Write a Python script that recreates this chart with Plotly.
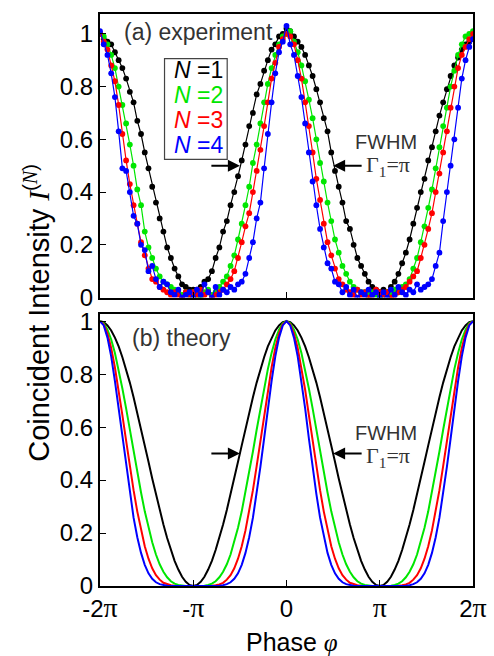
import numpy as np
import plotly.graph_objects as go

# Phase grid: -2pi .. 2pi in steps of pi/25
phase = np.linspace(-2 * np.pi, 2 * np.pi, 101)

tick_vals = [-2 * np.pi, -np.pi, 0, np.pi, 2 * np.pi]
SERIF = "Liberation Serif"
PI = f'<span style="font-family:{SERIF};font-size:28px">π</span>'
tick_text = [f"-2{PI}", f"-{PI}", "0", PI, f"2{PI}"]
y_ticks = [0, 0.2, 0.4, 0.6, 0.8, 1]
y_tick_text = ["0", "0.2", "0.4", "0.6", "0.8", "1"]

labels = ["N =1", "N =2", "N =3", "N =4"]
colors = ["#000000", "#00e600", "#ff0000", "#0000ff"]

# (a) measured coincidence intensities
exp_n1 = [1.00, 0.98, 0.97, 0.96, 0.93, 0.90, 0.87, 0.83, 0.78, 0.74, 0.67, 0.62, 0.55,
          0.49, 0.42, 0.36, 0.30, 0.25, 0.19, 0.15, 0.11, 0.08, 0.05, 0.04, 0.03, 0.03,
          0.03, 0.04, 0.06, 0.07, 0.10, 0.15, 0.19, 0.25, 0.29, 0.35, 0.40, 0.46, 0.52,
          0.58, 0.65, 0.70, 0.77, 0.81, 0.86, 0.90, 0.94, 0.96, 0.99, 1.00, 1.02,
          1.01, 0.99, 0.97, 0.95, 0.92, 0.88, 0.84, 0.79, 0.74, 0.68, 0.63, 0.55, 0.48,
          0.42, 0.36, 0.29, 0.26, 0.20, 0.15, 0.12, 0.09, 0.06, 0.04, 0.03, 0.02,
          0.03, 0.02, 0.04, 0.06, 0.09, 0.13, 0.17, 0.22, 0.28, 0.34, 0.40, 0.45, 0.52,
          0.57, 0.63, 0.69, 0.74, 0.79, 0.84, 0.88, 0.91, 0.94, 0.96, 0.97, 0.98]
exp_n2 = [1.00, 0.99, 0.96, 0.92, 0.87, 0.80, 0.73, 0.66, 0.58, 0.50, 0.41, 0.35, 0.25,
          0.19, 0.15, 0.11, 0.08, 0.06, 0.05, 0.04, 0.03, 0.02, 0.01, 0.02, 0.01, 0.02,
          0.01, 0.00, 0.02, 0.03, 0.01, 0.02, 0.04, 0.06, 0.08, 0.12, 0.16, 0.22, 0.28,
          0.35, 0.42, 0.51, 0.58, 0.66, 0.74, 0.81, 0.87, 0.92, 0.96, 0.99, 1.00,
          1.01, 0.97, 0.93, 0.88, 0.82, 0.75, 0.68, 0.60, 0.51, 0.44, 0.36, 0.29, 0.22,
          0.17, 0.12, 0.09, 0.06, 0.04, 0.03, 0.02, 0.02, 0.01, 0.02, 0.01, 0.00,
          0.01, 0.02, 0.01, 0.03, 0.02, 0.04, 0.05, 0.07, 0.11, 0.15, 0.21, 0.27, 0.34,
          0.41, 0.49, 0.57, 0.65, 0.72, 0.80, 0.86, 0.92, 0.96, 0.99, 1.00, 1.01]
exp_n3 = [1.00, 0.97, 0.94, 0.88, 0.82, 0.73, 0.62, 0.52, 0.43, 0.35, 0.28, 0.21, 0.16,
          0.11, 0.07, 0.06, 0.04, 0.03, 0.02, 0.01, 0.02, 0.01, 0.00, 0.02, 0.01, 0.02,
          0.01, 0.03, 0.01, 0.02, 0.00, 0.01, 0.02, 0.03, 0.05, 0.07, 0.10, 0.15, 0.21,
          0.27, 0.32, 0.40, 0.48, 0.56, 0.65, 0.74, 0.83, 0.89, 0.95, 0.98, 1.00,
          0.99, 0.96, 0.90, 0.83, 0.74, 0.65, 0.55, 0.45, 0.37, 0.28, 0.21, 0.16, 0.11,
          0.07, 0.05, 0.03, 0.02, 0.01, 0.03, 0.01, 0.02, 0.00, 0.01, 0.03, 0.02,
          0.01, 0.02, 0.00, 0.01, 0.02, 0.03, 0.04, 0.06, 0.08, 0.10, 0.15, 0.20, 0.26,
          0.32, 0.40, 0.47, 0.55, 0.63, 0.72, 0.80, 0.87, 0.92, 0.95, 0.98, 1.00]
exp_n4 = [1.01, 0.96, 0.92, 0.85, 0.76, 0.63, 0.49, 0.48, 0.40, 0.31, 0.28, 0.20, 0.18,
          0.10, 0.12, 0.07, 0.04, 0.06, 0.05, 0.02, 0.01, 0.03, 0.00, 0.01, 0.02, 0.00,
          0.03, 0.01, 0.05, 0.02, 0.00, 0.04, 0.01, 0.03, 0.02, 0.04, 0.03, 0.05, 0.06,
          0.09, 0.15, 0.21, 0.30, 0.36, 0.49, 0.62, 0.74, 0.85, 0.93, 0.97, 1.03,
          0.96, 0.92, 0.84, 0.76, 0.66, 0.55, 0.44, 0.35, 0.26, 0.19, 0.13, 0.11, 0.06,
          0.05, 0.02, 0.04, 0.01, 0.03, 0.00, 0.02, 0.01, 0.03, 0.01, 0.02, 0.00,
          0.02, 0.00, 0.03, 0.01, 0.04, 0.02, 0.01, 0.03, 0.02, 0.05, 0.03, 0.04, 0.05,
          0.07, 0.12, 0.17, 0.29, 0.40, 0.50, 0.60, 0.72, 0.83, 0.90, 0.95, 0.98]

# (b) theoretical curves on the same phase grid
th_n1 = [1.000, 0.996, 0.984, 0.965, 0.938, 0.905, 0.864, 0.819, 0.768, 0.713, 0.655, 0.594, 0.531,
         0.469, 0.406, 0.345, 0.287, 0.232, 0.181, 0.136, 0.095, 0.062, 0.035, 0.016, 0.004, 0.000,
         0.004, 0.016, 0.035, 0.062, 0.095, 0.136, 0.181, 0.232, 0.287, 0.345, 0.406, 0.469, 0.531,
         0.594, 0.655, 0.713, 0.768, 0.819, 0.864, 0.905, 0.938, 0.965, 0.984, 0.996, 1.000,
         0.996, 0.984, 0.965, 0.938, 0.905, 0.864, 0.819, 0.768, 0.713, 0.655, 0.594, 0.531, 0.469,
         0.406, 0.345, 0.287, 0.232, 0.181, 0.136, 0.095, 0.062, 0.035, 0.016, 0.004, 0.000,
         0.004, 0.016, 0.035, 0.062, 0.095, 0.136, 0.181, 0.232, 0.287, 0.345, 0.406, 0.469, 0.531,
         0.594, 0.655, 0.713, 0.768, 0.819, 0.864, 0.905, 0.938, 0.965, 0.984, 0.996, 1.000]
th_n2 = [1.000, 0.992, 0.968, 0.931, 0.880, 0.819, 0.746, 0.671, 0.590, 0.508, 0.429, 0.353, 0.282,
         0.220, 0.165, 0.119, 0.082, 0.054, 0.033, 0.018, 0.009, 0.004, 0.001, 0.000, 0.000, 0.000,
         0.000, 0.000, 0.001, 0.004, 0.009, 0.018, 0.033, 0.054, 0.082, 0.119, 0.165, 0.220, 0.282,
         0.353, 0.429, 0.508, 0.590, 0.671, 0.746, 0.819, 0.880, 0.931, 0.968, 0.992, 1.000,
         0.992, 0.968, 0.931, 0.880, 0.819, 0.746, 0.671, 0.590, 0.508, 0.429, 0.353, 0.282, 0.220,
         0.165, 0.119, 0.082, 0.054, 0.033, 0.018, 0.009, 0.004, 0.001, 0.000, 0.000, 0.000,
         0.000, 0.000, 0.001, 0.004, 0.009, 0.018, 0.033, 0.054, 0.082, 0.119, 0.165, 0.220, 0.282,
         0.353, 0.429, 0.508, 0.590, 0.671, 0.746, 0.819, 0.880, 0.931, 0.968, 0.992, 1.000]
th_n3 = [1.000, 0.988, 0.953, 0.899, 0.825, 0.741, 0.645, 0.549, 0.453, 0.362, 0.281, 0.210, 0.150,
         0.103, 0.067, 0.041, 0.024, 0.012, 0.006, 0.003, 0.001, 0.000, 0.000, 0.000, 0.000, 0.000,
         0.000, 0.000, 0.000, 0.000, 0.001, 0.003, 0.006, 0.012, 0.024, 0.041, 0.067, 0.103, 0.150,
         0.210, 0.281, 0.362, 0.453, 0.549, 0.645, 0.741, 0.825, 0.899, 0.953, 0.988, 1.000,
         0.988, 0.953, 0.899, 0.825, 0.741, 0.645, 0.549, 0.453, 0.362, 0.281, 0.210, 0.150, 0.103,
         0.067, 0.041, 0.024, 0.012, 0.006, 0.003, 0.001, 0.000, 0.000, 0.000, 0.000, 0.000,
         0.000, 0.000, 0.000, 0.000, 0.001, 0.003, 0.006, 0.012, 0.024, 0.041, 0.067, 0.103, 0.150,
         0.210, 0.281, 0.362, 0.453, 0.549, 0.645, 0.741, 0.825, 0.899, 0.953, 0.988, 1.000]
th_n4 = [1.000, 0.984, 0.938, 0.867, 0.774, 0.671, 0.557, 0.450, 0.348, 0.258, 0.184, 0.125, 0.080,
         0.048, 0.027, 0.014, 0.007, 0.003, 0.001, 0.000, 0.000, 0.000, 0.000, 0.000, 0.000, 0.000,
         0.000, 0.000, 0.000, 0.000, 0.000, 0.000, 0.001, 0.003, 0.007, 0.014, 0.027, 0.048, 0.080,
         0.125, 0.184, 0.258, 0.348, 0.450, 0.557, 0.671, 0.774, 0.867, 0.938, 0.984, 1.000,
         0.984, 0.938, 0.867, 0.774, 0.671, 0.557, 0.450, 0.348, 0.258, 0.184, 0.125, 0.080, 0.048,
         0.027, 0.014, 0.007, 0.003, 0.001, 0.000, 0.000, 0.000, 0.000, 0.000, 0.000, 0.000,
         0.000, 0.000, 0.000, 0.000, 0.000, 0.000, 0.001, 0.003, 0.007, 0.014, 0.027, 0.048, 0.080,
         0.125, 0.184, 0.258, 0.348, 0.450, 0.557, 0.671, 0.774, 0.867, 0.938, 0.984, 1.000]

# half-maximum point of the N=1 curve, marked by the FWHM arrows
half_max_phase = np.pi / 2
half_max_value = 0.5

fig = go.Figure()

for ys, name, col in zip([exp_n1, exp_n2, exp_n3, exp_n4], labels, colors):
    fig.add_trace(go.Scatter(
        x=phase, y=ys, mode="lines+markers", name=name,
        line=dict(color=col, width=1.2),
        marker=dict(color=col, size=5.8, line=dict(width=0)),
        xaxis="x", yaxis="y", showlegend=False,
    ))

for ys, name, col in zip([th_n1, th_n2, th_n3, th_n4], labels, colors):
    fig.add_trace(go.Scatter(
        x=phase, y=ys, mode="lines", name=name,
        line=dict(color=col, width=2),
        xaxis="x2", yaxis="y2", showlegend=False,
    ))

TICKFONT = dict(family="Liberation Sans, Arial, sans-serif", size=24, color="#000000")

axis_common = dict(
    showline=True, mirror=True, linecolor="#000000", linewidth=2,
    showgrid=False, zeroline=False, ticks="inside", ticklen=6,
    tickcolor="#000000", tickwidth=1, tickfont=TICKFONT,
)

fig.update_layout(
    width=494, height=656,
    margin=dict(l=100, r=19, t=7, b=70),
    paper_bgcolor="#ffffff", plot_bgcolor="#ffffff",
    xaxis=dict(axis_common, domain=[0, 1], anchor="y", range=[-2 * np.pi, 2 * np.pi],
               tickvals=tick_vals, showticklabels=False),
    yaxis=dict(axis_common, domain=[0.5043, 1], anchor="x", range=[0, 1.075],
               tickvals=y_ticks, ticktext=y_tick_text),
    xaxis2=dict(axis_common, domain=[0, 1], anchor="y2", range=[-2 * np.pi, 2 * np.pi],
                tickvals=tick_vals, ticktext=tick_text),
    yaxis2=dict(axis_common, domain=[0, 0.475], anchor="x2", range=[0, 1.026],
                tickvals=y_ticks, ticktext=y_tick_text),
    font=dict(family="Liberation Sans, Arial, sans-serif", color="#000000"),
)

GRAY = "#333333"
ann = []
# axis titles
ann.append(dict(
    text=f'Coincident Intensity <span style="font-family:{SERIF}"><i>I</i></span>'
         f'<sup>(<span style="font-family:{SERIF}"><i>N</i></span>)</sup>',
    xref="paper", yref="paper", x=-0.171, y=0.478, textangle=-90,
    showarrow=False, font=dict(size=29, color="#000000"),
    xanchor="center", yanchor="middle",
))
ann.append(dict(
    text=f'Phase <span style="font-family:{SERIF}"><i>φ</i></span>',
    xref="paper", yref="paper", x=0.515, y=-0.098, showarrow=False,
    font=dict(size=25, color="#000000"), xanchor="center", yanchor="middle",
))
# panel labels
ann.append(dict(text="(a) experiment", xref="paper", yref="paper", x=0.0587, y=0.969,
                showarrow=False, xanchor="left", yanchor="middle",
                font=dict(size=23, color=GRAY)))
ann.append(dict(text="(b) theory", xref="paper", yref="paper", x=0.08, y=0.4335,
                showarrow=False, xanchor="left", yanchor="middle",
                font=dict(size=23, color=GRAY)))

# legend entries
legend_y = [0.9016, 0.8584, 0.8152, 0.7703]
for lab, col, ly in zip(labels, colors, legend_y):
    ann.append(dict(text=f"<i>N</i> ={lab.split('=')[1]}", xref="paper", yref="paper",
                    x=0.192, y=ly, showarrow=False, xanchor="left", yanchor="middle",
                    font=dict(size=23, color=col)))

# FWHM labels and arrows
for xref, yref, fy, gy in [("x", "y", 0.776, 0.734), ("x2", "y2", 0.268, 0.226)]:
    ann.append(dict(text="FWHM", xref="paper", yref="paper", x=0.768, y=fy,
                    showarrow=False, xanchor="center", yanchor="middle",
                    font=dict(size=20, color=GRAY)))
    ann.append(dict(text=f'<span style="font-family:{SERIF}">Γ<sub>1</sub>=π</span>',
                    xref="paper", yref="paper", x=0.709, y=gy,
                    showarrow=False, xanchor="left", yanchor="middle",
                    font=dict(size=22, color=GRAY)))
    for sign in (-1, 1):
        ann.append(dict(text="", xref=xref, yref=yref,
                        x=sign * half_max_phase, y=half_max_value,
                        ax=sign * 30, ay=0, axref="pixel", ayref="pixel",
                        showarrow=True, arrowhead=2, arrowsize=1.2, arrowwidth=2,
                        arrowcolor="#000000"))

fig.update_layout(annotations=ann)

# legend frame
fig.add_shape(type="rect", xref="paper", yref="paper",
              x0=0.173, x1=0.341, y0=0.746, y1=0.922,
              line=dict(color="#444444", width=1.2), fillcolor="rgba(255,255,255,0)")

fig.write_html("out.html")
